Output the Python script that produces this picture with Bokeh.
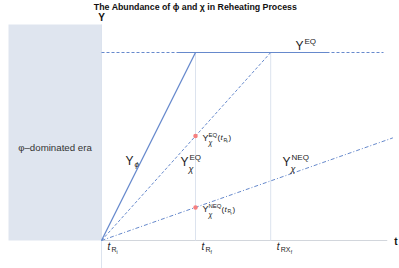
from bokeh.plotting import figure
from bokeh.models import ColumnDataSource, Range1d
from bokeh.embed import file_html
from bokeh.resources import INLINE
from bokeh.core.properties import value

# ---- data (schematic values) ----
tick_t = [0.0, 1.0, 1.8]                 # t_Ri, t_Rf, t_RXf
tick_main = ["t", "t", "t"]
tick_sub = ["R", "R", "RX"]
tick_subsub = ["i", "f", "f"]
Y_EQ = 1.0
phi_t = [0.0, 1.0]
phi_y = [0.0, 1.0]
eq_t = [0.0, 1.8]
eq_y = [0.0, 1.0]
neq_t = [0.0, 3.1]
neq_y = [0.0, 0.546]
pts_t = [1.0, 1.0]
pts_y = [0.556, 0.176]
plateau_t = [0.81, 2.415]
eqline_t = [0.0, 3.0]
era_left = -0.9894
era_top = 1.149
t_end = 3.04

X0, X1 = -1.0745, 3.1702
Y0, Y1 = -0.1489, 1.2766

LINE = "#6689cc"
FONT = "Liberation Sans"

p = figure(width=399, height=268, x_range=Range1d(X0, X1), y_range=Range1d(Y0, Y1),
           output_backend="svg", toolbar_location=None, min_border=0,
           background_fill_color="white", border_fill_color="white")
p.axis.visible = False
p.grid.visible = False
p.outline_line_color = None

# shaded era
p.quad(left=[era_left], right=[0.0], bottom=[0.0], top=[era_top], fill_color="#dfe5ef", line_color=None)
# y axis line (extends below)
p.segment(x0=[0.0], y0=[Y0], x1=[0.0], y1=[era_top], line_color="#dce3ee", line_width=1)
# x axis
p.segment(x0=[0.0], y0=[0.0], x1=[t_end], y1=[0.0], line_color="#d2d6dc", line_width=1)
# vertical guides
p.segment(x0=tick_t[1:], y0=[0.0, 0.0], x1=tick_t[1:], y1=[Y_EQ, Y_EQ], line_color="#dce3ee", line_width=1)

# Y^EQ line: dashed full, solid plateau
p.line(eqline_t, [Y_EQ, Y_EQ], line_color=LINE, line_width=1, line_dash="3 2")
p.line(plateau_t, [Y_EQ, Y_EQ], line_color=LINE, line_width=1.2)

# curves
p.line(phi_t, phi_y, line_color=LINE, line_width=1.2)
p.line(eq_t, eq_y, line_color=LINE, line_width=1, line_dash="3 2")
p.line(neq_t, neq_y, line_color=LINE, line_width=1, line_dash="4 2 1 2")
p.scatter(pts_t, pts_y, size=4.5, fill_color="#f57f7f", line_color=None)

# ---- texts ----
rows = dict(x=[], y=[], text=[], size=[], style=[], dx=[], dy=[], align=[], color=[])

def add(x, y, text, size, style="normal", dx=0, dy=0, align="left", color="#222222"):
    rows["x"].append(x); rows["y"].append(y); rows["text"].append(text)
    rows["size"].append(size); rows["style"].append(style)
    rows["dx"].append(dx); rows["dy"].append(dy); rows["align"].append(align)
    rows["color"].append(color)

# title and axis names
add(1.0, Y1, "The Abundance of \u03d5 and \u03c7 in Reheating Process", "8.8px", "bold", 0, 6, "center", "#111111")
add(0.0, Y1, "Y", "10px", "bold", 0, 17, "center", "#111111")
add(t_end, 0.0, "t", "10px", "bold", 7, 1, "left", "#111111")
add(era_left / 2, 0.495, "\u03c6\u2013dominated era", "9.7px", "normal", 0, 0, "center", "#333333")

# tick labels
for t, m, s, ss in zip(tick_t, tick_main, tick_sub, tick_subsub):
    add(t, 0.0, m, "10px", "italic", 6, 6)
    add(t, 0.0, s, "7px", "normal", 10, 9)
    add(t, 0.0, ss, "5px", "normal", 10 + 5 * len(s), 11)

# Y^EQ
add(2.064, Y_EQ, "Y", "12px", "normal", 0, -7)
add(2.064, Y_EQ, "EQ", "8px", "normal", 9, -11)
# Y_phi
add(0.255, 0.425, "Y", "12px", "normal", 0, 0)
add(0.255, 0.425, "\u03d5", "8px", "italic", 9, 4)
# Y_chi^EQ
add(0.84, 0.415, "Y", "12px", "normal", 0, 0)
add(0.84, 0.415, "EQ", "8px", "normal", 9, -5)
add(0.84, 0.415, "\u03c7", "9px", "italic", 8, 7)
# Y_chi^NEQ
add(1.926, 0.415, "Y", "12px", "normal", 0, 0)
add(1.926, 0.415, "NEQ", "8px", "normal", 9, -5)
add(1.926, 0.415, "\u03c7", "9px", "italic", 8, 7)
# point annotations
for yv, sup in zip(pts_y, ["EQ", "NEQ"]):
    add(pts_t[0], yv, "Y", "9px", "normal", 7, 2)
    add(pts_t[0], yv, sup, "6px", "normal", 13, -1)
    add(pts_t[0], yv, "\u03c7", "7px", "italic", 13, 7)
    xo = 14 + 4 * len(sup)
    add(pts_t[0], yv, "(", "8px", "normal", xo, 2)
    add(pts_t[0], yv, "t", "8px", "italic", xo + 3, 2)
    add(pts_t[0], yv, "R", "5px", "normal", xo + 6, 4)
    add(pts_t[0], yv, "f", "4px", "normal", xo + 9, 6)
    add(pts_t[0], yv, ")", "8px", "normal", xo + 11, 2)

src = ColumnDataSource(rows)
p.text(x="x", y="y", text="text", source=src, text_font=value(FONT),
       text_font_size="size", text_font_style="style", x_offset="dx", y_offset="dy",
       text_align="align", text_baseline="middle", text_color="color")

open("out.html", "w").write(file_html(p, INLINE))
